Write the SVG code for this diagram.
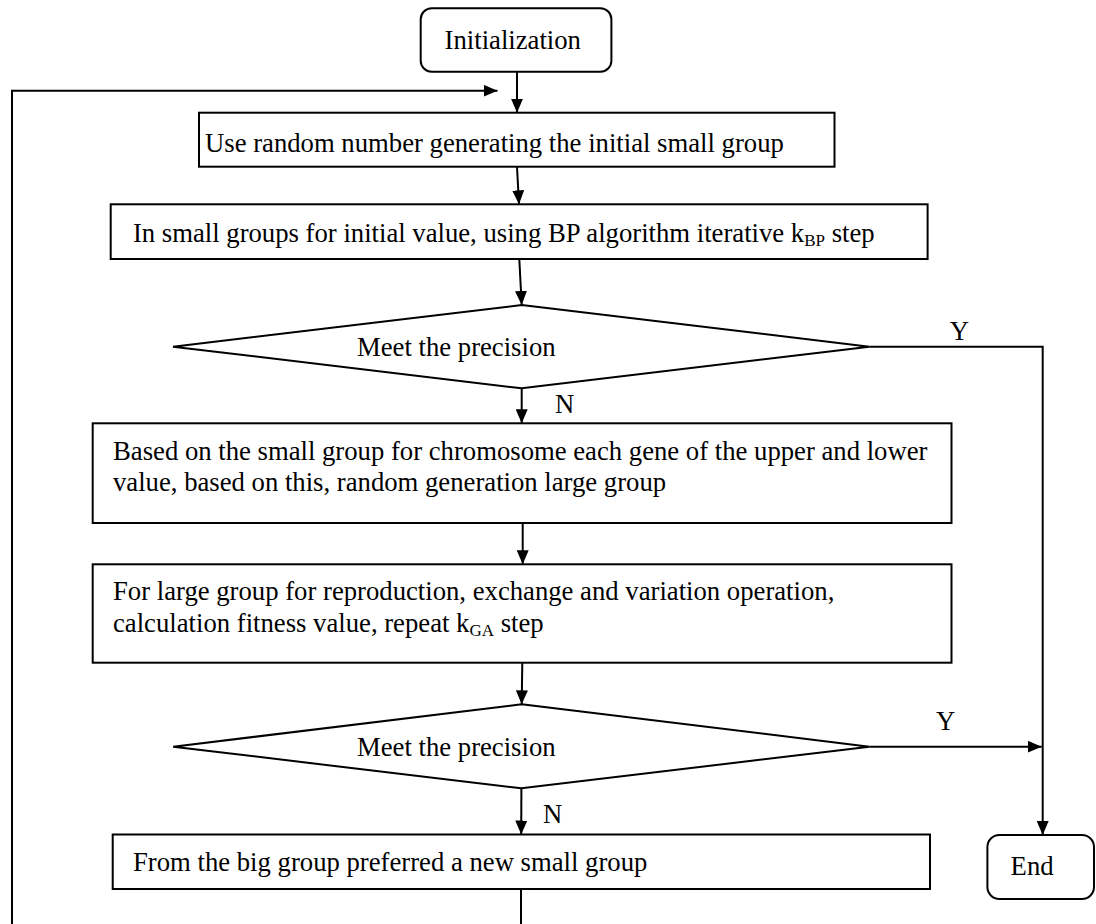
<svg xmlns="http://www.w3.org/2000/svg" width="1096" height="924" viewBox="0 0 1096 924">
<style>
.box{fill:#fff;stroke:#000;stroke-width:2}
.t{font-family:"Liberation Serif","Times New Roman",serif;font-size:26.7px;fill:#000}
.sub{font-size:17px}
.c{fill:none;stroke:#000;stroke-width:2}
</style>
<defs>
<marker id="ah" markerUnits="userSpaceOnUse" markerWidth="14" markerHeight="12" refX="14" refY="6" orient="auto">
<path d="M0,0 L14,6 L0,12 z" fill="#000"/>
</marker>
</defs>
<rect width="1096" height="924" fill="#fff"/>
<g id="connectors">
<path class="c" d="M517,72 L517,112.7" marker-end="url(#ah)"/>
<path class="c" d="M517,167 L519,204.3" marker-end="url(#ah)"/>
<path class="c" d="M519.3,259 L521.7,305" marker-end="url(#ah)"/>
<path class="c" d="M521.7,388.3 L521.7,423.3" marker-end="url(#ah)"/>
<path class="c" d="M869.4,346.7 H1042.7 V835" marker-end="url(#ah)"/>
<path class="c" d="M522.7,523 L522.7,564.3" marker-end="url(#ah)"/>
<path class="c" d="M522.3,662.7 L521.7,704.3" marker-end="url(#ah)"/>
<path class="c" d="M869.4,746.7 L1041.7,746.7" marker-end="url(#ah)"/>
<path class="c" d="M521.4,788.3 L521.2,834.5" marker-end="url(#ah)"/>
<path class="c" d="M521,889 V940 H12 V90.7 H497.5" marker-end="url(#ah)"/>
<text class="t" x="949.7" y="340">Y</text>
<text class="t" x="555" y="412.7">N</text>
<text class="t" x="936" y="730">Y</text>
<text class="t" x="543" y="822.7">N</text>
</g>
<g id="init">
<rect class="box" x="420.7" y="8.3" width="190.7" height="63.4" rx="11"/>
<text class="t" x="444.6" y="49">Initialization</text>
</g>
<g id="gen-small">
<rect class="box" x="199" y="112.7" width="635.5" height="54"/>
<text class="t" x="205" y="152">Use random number generating the initial small group</text>
</g>
<g id="bp">
<rect class="box" x="110.7" y="204.3" width="816.9" height="54.7"/>
<text class="t" x="132.9" y="242">In small groups for initial value, using BP algorithm iterative k<tspan class="sub" dy="4">BP</tspan><tspan dy="-4"> step</tspan></text>
</g>
<g id="precision1">
<polygon class="box" points="521.7,305 869.4,346.7 521.7,388.3 173,346.7"/>
<text class="t" x="357" y="355.7">Meet the precision</text>
</g>
<g id="gen-large">
<rect class="box" x="92.7" y="423.3" width="858.8" height="99.7"/>
<text class="t" x="113" y="460">Based on the small group for chromosome each gene of the upper and lower</text>
<text class="t" x="113" y="491">value, based on this, random generation large group</text>
</g>
<g id="ga">
<rect class="box" x="92.7" y="564.3" width="858.8" height="98.4"/>
<text class="t" x="113" y="600">For large group for reproduction, exchange and variation operation,</text>
<text class="t" x="113" y="631.7">calculation fitness value, repeat k<tspan class="sub" dy="4">GA</tspan><tspan dy="-4"> step</tspan></text>
</g>
<g id="precision2">
<polygon class="box" points="521.7,704.3 869.4,746.7 521.4,788.3 173.2,746.7"/>
<text class="t" x="357" y="755.5">Meet the precision</text>
</g>
<g id="new-small">
<rect class="box" x="112.7" y="834.5" width="817.3" height="54.5"/>
<text class="t" x="133" y="870.7">From the big group preferred a new small group</text>
</g>
<g id="end">
<rect class="box" x="987.4" y="835" width="106.6" height="64" rx="12"/>
<text class="t" x="1010.6" y="875">End</text>
</g>
</svg>
